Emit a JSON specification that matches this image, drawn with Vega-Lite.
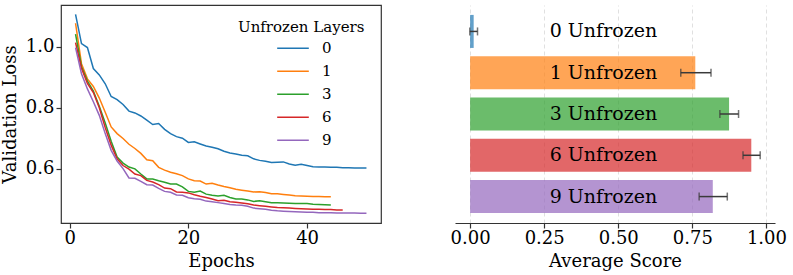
{
  "$schema": "https://vega.github.io/schema/vega-lite/v6.json",
  "background": "white",
  "padding": {"left": 0, "top": 4, "right": 5, "bottom": 0},
  "config": {
    "font": "DejaVu Serif",
    "view": {"stroke": null},
    "axis": {
      "labelFont": "DejaVu Serif", "titleFont": "DejaVu Serif",
      "labelFontSize": 18, "titleFontSize": 18, "titleFontWeight": "normal",
      "labelColor": "#000", "titleColor": "#000",
      "tickColor": "#333", "domainColor": "#333", "tickSize": 5, "tickWidth": 1.2, "domainWidth": 1.2,
      "grid": false
    }
  },
  "spacing": 68,
  "datasets": {
    "loss": [
      {"layers":"0","epoch":1,"loss":1.107},{"layers":"0","epoch":2,"loss":1.011},{"layers":"0","epoch":3,"loss":0.998},{"layers":"0","epoch":4,"loss":0.929},{"layers":"0","epoch":5,"loss":0.908},{"layers":"0","epoch":6,"loss":0.879},{"layers":"0","epoch":7,"loss":0.837},{"layers":"0","epoch":8,"loss":0.827},{"layers":"0","epoch":9,"loss":0.811},{"layers":"0","epoch":10,"loss":0.789},
      {"layers":"0","epoch":11,"loss":0.783},{"layers":"0","epoch":12,"loss":0.773},{"layers":"0","epoch":13,"loss":0.759},{"layers":"0","epoch":14,"loss":0.745},{"layers":"0","epoch":15,"loss":0.748},{"layers":"0","epoch":16,"loss":0.729},{"layers":"0","epoch":17,"loss":0.715},{"layers":"0","epoch":18,"loss":0.705},{"layers":"0","epoch":19,"loss":0.700},{"layers":"0","epoch":20,"loss":0.686},
      {"layers":"0","epoch":21,"loss":0.688},{"layers":"0","epoch":22,"loss":0.681},{"layers":"0","epoch":23,"loss":0.674},{"layers":"0","epoch":24,"loss":0.670},{"layers":"0","epoch":25,"loss":0.665},{"layers":"0","epoch":26,"loss":0.657},{"layers":"0","epoch":27,"loss":0.651},{"layers":"0","epoch":28,"loss":0.648},{"layers":"0","epoch":29,"loss":0.644},{"layers":"0","epoch":30,"loss":0.642},
      {"layers":"0","epoch":31,"loss":0.632},{"layers":"0","epoch":32,"loss":0.627},{"layers":"0","epoch":33,"loss":0.624},{"layers":"0","epoch":34,"loss":0.620},{"layers":"0","epoch":35,"loss":0.621},{"layers":"0","epoch":36,"loss":0.622},{"layers":"0","epoch":37,"loss":0.615},{"layers":"0","epoch":38,"loss":0.611},{"layers":"0","epoch":39,"loss":0.614},{"layers":"0","epoch":40,"loss":0.610},
      {"layers":"0","epoch":41,"loss":0.606},{"layers":"0","epoch":42,"loss":0.605},{"layers":"0","epoch":43,"loss":0.605},{"layers":"0","epoch":44,"loss":0.604},{"layers":"0","epoch":45,"loss":0.604},{"layers":"0","epoch":46,"loss":0.603},{"layers":"0","epoch":47,"loss":0.603},{"layers":"0","epoch":48,"loss":0.602},{"layers":"0","epoch":49,"loss":0.602},{"layers":"0","epoch":50,"loss":0.602},

      {"layers":"1","epoch":1,"loss":1.078},{"layers":"1","epoch":2,"loss":0.945},{"layers":"1","epoch":3,"loss":0.895},{"layers":"1","epoch":4,"loss":0.870},{"layers":"1","epoch":5,"loss":0.832},{"layers":"1","epoch":6,"loss":0.785},{"layers":"1","epoch":7,"loss":0.737},{"layers":"1","epoch":8,"loss":0.715},{"layers":"1","epoch":9,"loss":0.699},{"layers":"1","epoch":10,"loss":0.680},
      {"layers":"1","epoch":11,"loss":0.666},{"layers":"1","epoch":12,"loss":0.650},{"layers":"1","epoch":13,"loss":0.629},{"layers":"1","epoch":14,"loss":0.626},{"layers":"1","epoch":15,"loss":0.604},{"layers":"1","epoch":16,"loss":0.595},{"layers":"1","epoch":17,"loss":0.588},{"layers":"1","epoch":18,"loss":0.583},{"layers":"1","epoch":19,"loss":0.577},{"layers":"1","epoch":20,"loss":0.566},
      {"layers":"1","epoch":21,"loss":0.560},{"layers":"1","epoch":22,"loss":0.559},{"layers":"1","epoch":23,"loss":0.549},{"layers":"1","epoch":24,"loss":0.552},{"layers":"1","epoch":25,"loss":0.546},{"layers":"1","epoch":26,"loss":0.541},{"layers":"1","epoch":27,"loss":0.537},{"layers":"1","epoch":28,"loss":0.532},{"layers":"1","epoch":29,"loss":0.529},{"layers":"1","epoch":30,"loss":0.526},
      {"layers":"1","epoch":31,"loss":0.523},{"layers":"1","epoch":32,"loss":0.524},{"layers":"1","epoch":33,"loss":0.521},{"layers":"1","epoch":34,"loss":0.517},{"layers":"1","epoch":35,"loss":0.517},{"layers":"1","epoch":36,"loss":0.515},{"layers":"1","epoch":37,"loss":0.513},{"layers":"1","epoch":38,"loss":0.511},{"layers":"1","epoch":39,"loss":0.510},{"layers":"1","epoch":40,"loss":0.509},
      {"layers":"1","epoch":41,"loss":0.508},{"layers":"1","epoch":42,"loss":0.508},{"layers":"1","epoch":43,"loss":0.507},{"layers":"1","epoch":44,"loss":0.507},

      {"layers":"3","epoch":1,"loss":1.042},{"layers":"3","epoch":2,"loss":0.935},{"layers":"3","epoch":3,"loss":0.888},{"layers":"3","epoch":4,"loss":0.855},{"layers":"3","epoch":5,"loss":0.805},{"layers":"3","epoch":6,"loss":0.750},{"layers":"3","epoch":7,"loss":0.690},{"layers":"3","epoch":8,"loss":0.638},{"layers":"3","epoch":9,"loss":0.618},{"layers":"3","epoch":10,"loss":0.605},
      {"layers":"3","epoch":11,"loss":0.599},{"layers":"3","epoch":12,"loss":0.582},{"layers":"3","epoch":13,"loss":0.566},{"layers":"3","epoch":14,"loss":0.566},{"layers":"3","epoch":15,"loss":0.560},{"layers":"3","epoch":16,"loss":0.555},{"layers":"3","epoch":17,"loss":0.549},{"layers":"3","epoch":18,"loss":0.549},{"layers":"3","epoch":19,"loss":0.540},{"layers":"3","epoch":20,"loss":0.525},
      {"layers":"3","epoch":21,"loss":0.522},{"layers":"3","epoch":22,"loss":0.526},{"layers":"3","epoch":23,"loss":0.516},{"layers":"3","epoch":24,"loss":0.512},{"layers":"3","epoch":25,"loss":0.510},{"layers":"3","epoch":26,"loss":0.512},{"layers":"3","epoch":27,"loss":0.505},{"layers":"3","epoch":28,"loss":0.500},{"layers":"3","epoch":29,"loss":0.500},{"layers":"3","epoch":30,"loss":0.497},
      {"layers":"3","epoch":31,"loss":0.492},{"layers":"3","epoch":32,"loss":0.494},{"layers":"3","epoch":33,"loss":0.491},{"layers":"3","epoch":34,"loss":0.488},{"layers":"3","epoch":35,"loss":0.488},{"layers":"3","epoch":36,"loss":0.487},{"layers":"3","epoch":37,"loss":0.486},{"layers":"3","epoch":38,"loss":0.485},{"layers":"3","epoch":39,"loss":0.485},{"layers":"3","epoch":40,"loss":0.485},
      {"layers":"3","epoch":41,"loss":0.483},{"layers":"3","epoch":42,"loss":0.482},{"layers":"3","epoch":43,"loss":0.481},{"layers":"3","epoch":44,"loss":0.480},

      {"layers":"6","epoch":1,"loss":1.014},{"layers":"6","epoch":2,"loss":0.930},{"layers":"6","epoch":3,"loss":0.880},{"layers":"6","epoch":4,"loss":0.850},{"layers":"6","epoch":5,"loss":0.800},{"layers":"6","epoch":6,"loss":0.735},{"layers":"6","epoch":7,"loss":0.677},{"layers":"6","epoch":8,"loss":0.632},{"layers":"6","epoch":9,"loss":0.610},{"layers":"6","epoch":10,"loss":0.598},
      {"layers":"6","epoch":11,"loss":0.582},{"layers":"6","epoch":12,"loss":0.577},{"layers":"6","epoch":13,"loss":0.561},{"layers":"6","epoch":14,"loss":0.556},{"layers":"6","epoch":15,"loss":0.547},{"layers":"6","epoch":16,"loss":0.536},{"layers":"6","epoch":17,"loss":0.534},{"layers":"6","epoch":18,"loss":0.523},{"layers":"6","epoch":19,"loss":0.522},{"layers":"6","epoch":20,"loss":0.520},
      {"layers":"6","epoch":21,"loss":0.514},{"layers":"6","epoch":22,"loss":0.509},{"layers":"6","epoch":23,"loss":0.505},{"layers":"6","epoch":24,"loss":0.500},{"layers":"6","epoch":25,"loss":0.494},{"layers":"6","epoch":26,"loss":0.496},{"layers":"6","epoch":27,"loss":0.491},{"layers":"6","epoch":28,"loss":0.489},{"layers":"6","epoch":29,"loss":0.487},{"layers":"6","epoch":30,"loss":0.484},
      {"layers":"6","epoch":31,"loss":0.480},{"layers":"6","epoch":32,"loss":0.478},{"layers":"6","epoch":33,"loss":0.476},{"layers":"6","epoch":34,"loss":0.474},{"layers":"6","epoch":35,"loss":0.472},{"layers":"6","epoch":36,"loss":0.471},{"layers":"6","epoch":37,"loss":0.470},{"layers":"6","epoch":38,"loss":0.469},{"layers":"6","epoch":39,"loss":0.468},{"layers":"6","epoch":40,"loss":0.467},
      {"layers":"6","epoch":41,"loss":0.466},{"layers":"6","epoch":42,"loss":0.466},{"layers":"6","epoch":43,"loss":0.465},{"layers":"6","epoch":44,"loss":0.465},{"layers":"6","epoch":45,"loss":0.464},{"layers":"6","epoch":46,"loss":0.464},

      {"layers":"9","epoch":1,"loss":0.998},{"layers":"9","epoch":2,"loss":0.912},{"layers":"9","epoch":3,"loss":0.862},{"layers":"9","epoch":4,"loss":0.820},{"layers":"9","epoch":5,"loss":0.775},{"layers":"9","epoch":6,"loss":0.715},{"layers":"9","epoch":7,"loss":0.660},{"layers":"9","epoch":8,"loss":0.625},{"layers":"9","epoch":9,"loss":0.600},{"layers":"9","epoch":10,"loss":0.569},
      {"layers":"9","epoch":11,"loss":0.568},{"layers":"9","epoch":12,"loss":0.558},{"layers":"9","epoch":13,"loss":0.547},{"layers":"9","epoch":14,"loss":0.546},{"layers":"9","epoch":15,"loss":0.535},{"layers":"9","epoch":16,"loss":0.525},{"layers":"9","epoch":17,"loss":0.522},{"layers":"9","epoch":18,"loss":0.513},{"layers":"9","epoch":19,"loss":0.512},{"layers":"9","epoch":20,"loss":0.504},
      {"layers":"9","epoch":21,"loss":0.501},{"layers":"9","epoch":22,"loss":0.499},{"layers":"9","epoch":23,"loss":0.493},{"layers":"9","epoch":24,"loss":0.491},{"layers":"9","epoch":25,"loss":0.488},{"layers":"9","epoch":26,"loss":0.485},{"layers":"9","epoch":27,"loss":0.482},{"layers":"9","epoch":28,"loss":0.480},{"layers":"9","epoch":29,"loss":0.479},{"layers":"9","epoch":30,"loss":0.476},
      {"layers":"9","epoch":31,"loss":0.470},{"layers":"9","epoch":32,"loss":0.468},{"layers":"9","epoch":33,"loss":0.466},{"layers":"9","epoch":34,"loss":0.463},{"layers":"9","epoch":35,"loss":0.461},{"layers":"9","epoch":36,"loss":0.460},{"layers":"9","epoch":37,"loss":0.459},{"layers":"9","epoch":38,"loss":0.458},{"layers":"9","epoch":39,"loss":0.457},{"layers":"9","epoch":40,"loss":0.456},
      {"layers":"9","epoch":41,"loss":0.456},{"layers":"9","epoch":42,"loss":0.455},{"layers":"9","epoch":43,"loss":0.455},{"layers":"9","epoch":44,"loss":0.455},{"layers":"9","epoch":45,"loss":0.454},{"layers":"9","epoch":46,"loss":0.454},{"layers":"9","epoch":47,"loss":0.454},{"layers":"9","epoch":48,"loss":0.454},{"layers":"9","epoch":49,"loss":0.453},{"layers":"9","epoch":50,"loss":0.453}
    ],
    "scores": [
      {"cond":"0","label":"0 Unfrozen","score":0.012,"lo":-0.001,"hi":0.025},
      {"cond":"1","label":"1 Unfrozen","score":0.760,"lo":0.711,"hi":0.813},
      {"cond":"3","label":"3 Unfrozen","score":0.874,"lo":0.843,"hi":0.906},
      {"cond":"6","label":"6 Unfrozen","score":0.949,"lo":0.921,"hi":0.979},
      {"cond":"9","label":"9 Unfrozen","score":0.819,"lo":0.773,"hi":0.868}
    ]
  },
  "hconcat": [
    {
      "width": 320,
      "height": 218,
      "view": {"stroke": "#333", "strokeWidth": 1.2},
      "data": {"name": "loss"},
      "mark": {"type": "line", "strokeWidth": 1.5, "clip": true},
      "encoding": {
        "x": {"field": "epoch", "type": "quantitative",
              "scale": {"domain": [-1.45, 52.45], "nice": false, "zero": false},
              "axis": {"values": [0, 20, 40], "title": "Epochs", "domain": false, "labelPadding": 1, "titlePadding": 5}},
        "y": {"field": "loss", "type": "quantitative",
              "scale": {"domain": [0.421, 1.138], "nice": false, "zero": false},
              "axis": {"values": [0.6, 0.8, 1.0], "format": ".1f", "title": "Validation Loss", "domain": false, "labelPadding": 2, "titlePadding": 6}},
        "color": {"field": "layers", "type": "nominal",
                  "scale": {"domain": ["0", "1", "3", "6", "9"], "range": ["#1f77b4", "#ff7f0e", "#2ca02c", "#d62728", "#9467bd"]},
                  "legend": {"title": "Unfrozen Layers", "orient": "none", "legendX": 177, "legendY": 15,
                             "titleFont": "DejaVu Serif", "titleFontSize": 15, "titleFontWeight": "normal", "titleColor": "#000", "titlePadding": 2,
                             "labelFont": "DejaVu Serif", "labelFontSize": 15, "labelColor": "#000", "labelOffset": 12,
                             "symbolType": "stroke", "symbolSize": 1000, "symbolStrokeWidth": 1.5, "symbolOffset": 38,
                             "clipHeight": 22.5, "rowPadding": 0}}
      }
    },
    {
      "width": 320,
      "height": 218,
      "data": {"name": "scores"},
      "encoding": {
        "y": {"field": "cond", "type": "nominal", "sort": null,
              "scale": {"paddingInner": 0.2, "paddingOuter": 0.24}, "axis": null}
      },
      "layer": [
        {
          "mark": {"type": "bar", "opacity": 0.7},
          "encoding": {
            "x": {"field": "score", "type": "quantitative",
                  "scale": {"domain": [-0.051, 1.029], "nice": false, "zero": false},
                  "axis": {"values": [0, 0.25, 0.5, 0.75, 1.0], "format": ".2f", "title": "Average Score",
                           "grid": true, "gridDash": [4, 3], "gridColor": "#d8d8d8", "gridWidth": 0.8,
                           "labelPadding": 1, "titlePadding": 5}},
            "x2": {"datum": 0},
            "color": {"field": "cond", "type": "nominal",
                      "scale": {"domain": ["0", "1", "3", "6", "9"], "range": ["#1f77b4", "#ff7f0e", "#2ca02c", "#d62728", "#9467bd"]},
                      "legend": null}
          }
        },
        {
          "mark": {"type": "rule", "color": "#3a3a3a", "strokeWidth": 1.5},
          "encoding": {"x": {"field": "lo", "type": "quantitative"}, "x2": {"field": "hi"}}
        },
        {
          "mark": {"type": "tick", "color": "#3a3a3a", "thickness": 1.5, "size": 8},
          "encoding": {"x": {"field": "lo", "type": "quantitative"}}
        },
        {
          "mark": {"type": "tick", "color": "#3a3a3a", "thickness": 1.5, "size": 8},
          "encoding": {"x": {"field": "hi", "type": "quantitative"}}
        },
        {
          "mark": {"type": "text", "font": "DejaVu Serif", "fontSize": 19, "color": "#000", "align": "center", "baseline": "middle"},
          "encoding": {"x": {"datum": 0.45}, "text": {"field": "label"}}
        }
      ]
    }
  ],
  "resolve": {"scale": {"color": "independent"}, "legend": {"color": "independent"}}
}
